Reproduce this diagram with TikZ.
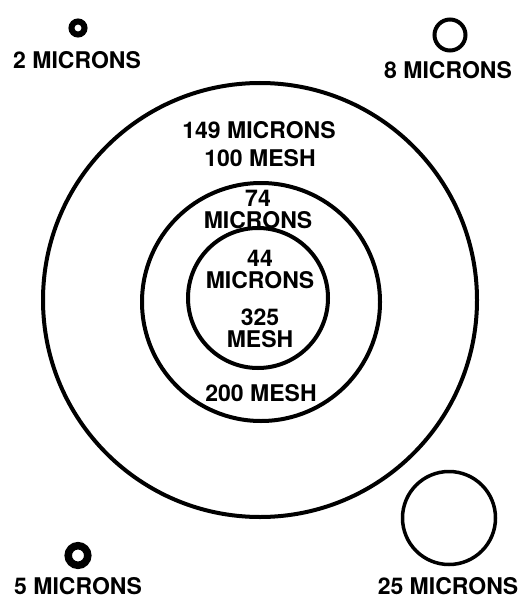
\documentclass[tikz,border=0pt]{standalone}
\usepackage{fontspec}
\setmainfont{TeX Gyre Heros}
\begin{document}
\begin{tikzpicture}[x=1pt,y=-1pt,
  lbl/.style={inner sep=0pt, font=\fontsize{23}{24}\selectfont\bfseries, align=center},
  ring/.style={circle, draw, inner sep=0pt, outer sep=0pt}]
\useasboundingbox (0,0) rectangle (523,599);
% particles
\node[ring, minimum size=13pt, line width=6pt] (p2) at (78,28) {};
\node[ring, minimum size=31pt, line width=4pt] (p8) at (450,35) {};
\node[ring, minimum size=19.6pt, line width=7.5pt] (p5) at (78,555.5) {};
\node[ring, minimum size=93pt, line width=3.5pt] (p25) at (449,518) {};
% sieve openings
\node[ring, minimum size=434pt, line width=4pt] (m100) at (260,300) {};
\node[ring, minimum size=238pt, line width=4pt] (m200) at (261,302) {};
\node[ring, minimum size=140pt, line width=4pt] (m325) at (258,298) {};
% labels
\node[lbl] (t2) at (77,60) {2 MICRONS};
\node[lbl] (t8) at (448,70.5) {8 MICRONS};
\node[lbl] (t5) at (78,586) {5 MICRONS};
\node[lbl] (t25) at (448,586) {25 MICRONS};
\node[lbl] (t149) at (259,130) {149 MICRONS};
\node[lbl] (t100) at (260,158.5) {100 MESH};
\node[lbl] (t74) at (258,198) {74};
\node[lbl] (t74m) at (258,220) {MICRONS};
\node[lbl] (t44) at (260,258) {44};
\node[lbl] (t44m) at (260,280.5) {MICRONS};
\node[lbl] (t325) at (260,317.5) {325};
\node[lbl] (t325m) at (260,339) {MESH};
\node[lbl] (t200) at (261,393) {200 MESH};
\end{tikzpicture}
\end{document}
